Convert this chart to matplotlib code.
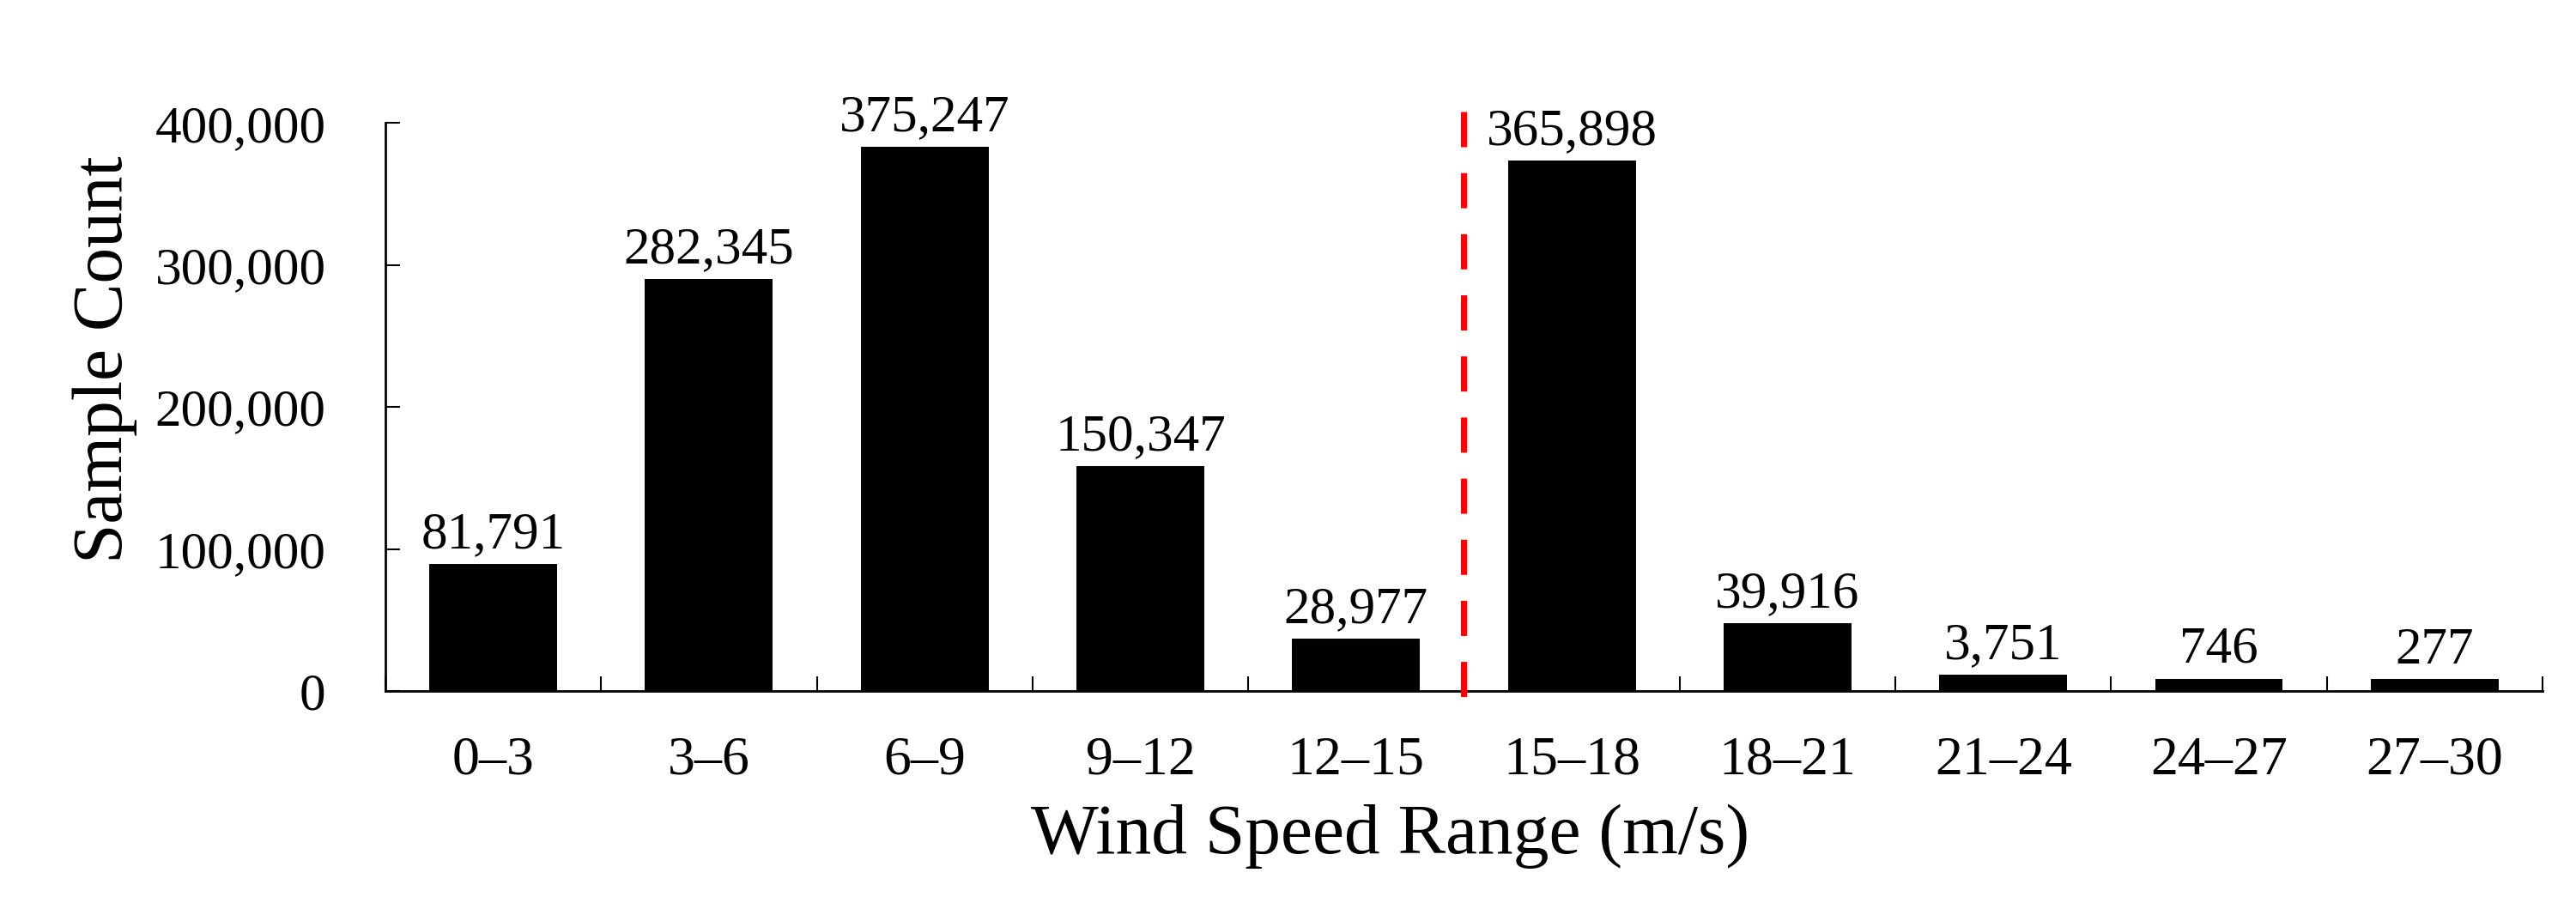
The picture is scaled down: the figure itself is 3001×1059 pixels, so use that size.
import numpy as np
import matplotlib
matplotlib.use("Agg")
import matplotlib.pyplot as plt
from matplotlib.ticker import FixedLocator, StrMethodFormatter

plt.rcParams['font.family'] = ['Liberation Serif', 'DejaVu Serif']

# wind speed bins and sample counts
ranges = ['0–3', '3–6', '6–9', '9–12', '12–15',
          '15–18', '18–21', '21–24', '24–27', '27–30']
counts = [81791, 282345, 375247, 150347, 28977,
          365898, 39916, 3751, 746, 277]
yticks = [0, 100000, 200000, 300000, 400000]
split_at = 4.5   # boundary between 12-15 and 15-18

fig = plt.figure(figsize=(30.01, 10.59), dpi=100)
ax = fig.add_axes([0.1496, 0.2399, 0.8374, 0.6246])

x = np.arange(len(ranges))
# thick black edge gives the bars their slab look (bottom part is clipped by axes)
ax.bar(x, counts, width=0.489, color='black', edgecolor='black',
       linewidth=18.7, joinstyle='miter')

for i, v in enumerate(counts):
    ax.annotate(f'{v:,}', xy=(i, v), xytext=(0, 23), textcoords='offset points',
                ha='center', va='baseline', fontsize=44)

# red dashed separator
ax.plot([split_at, split_at], [408000, -5500], color='#ff0000', lw=5,
        dashes=(5.9, 4.35), clip_on=False, zorder=5)

ax.set_xlim(-0.5, len(ranges) - 0.5)
ax.set_ylim(0, 400000)

ax.spines['top'].set_visible(False)
ax.spines['right'].set_visible(False)
ax.spines['left'].set_linewidth(2)
ax.spines['bottom'].set_linewidth(2)

ax.set_xticks(x)
ax.set_xticklabels(ranges)
ax.xaxis.set_minor_locator(FixedLocator(np.arange(-0.5, len(ranges), 1)))
ax.tick_params(axis='x', which='major', length=0, pad=38, labelsize=46)
ax.tick_params(axis='x', which='minor', direction='in', length=12, width=1.5)

ax.set_yticks(yticks)
ax.yaxis.set_major_formatter(StrMethodFormatter('{x:,.0f}'))
ax.tick_params(axis='y', direction='in', length=12, width=1.5, pad=50, labelsize=44)

ax.set_xlabel('Wind Speed Range (m/s)', fontsize=60, labelpad=15, x=0.466)
ax.set_ylabel('Sample Count', fontsize=60, labelpad=15, y=0.584)

fig.savefig('out.png', dpi=100)
